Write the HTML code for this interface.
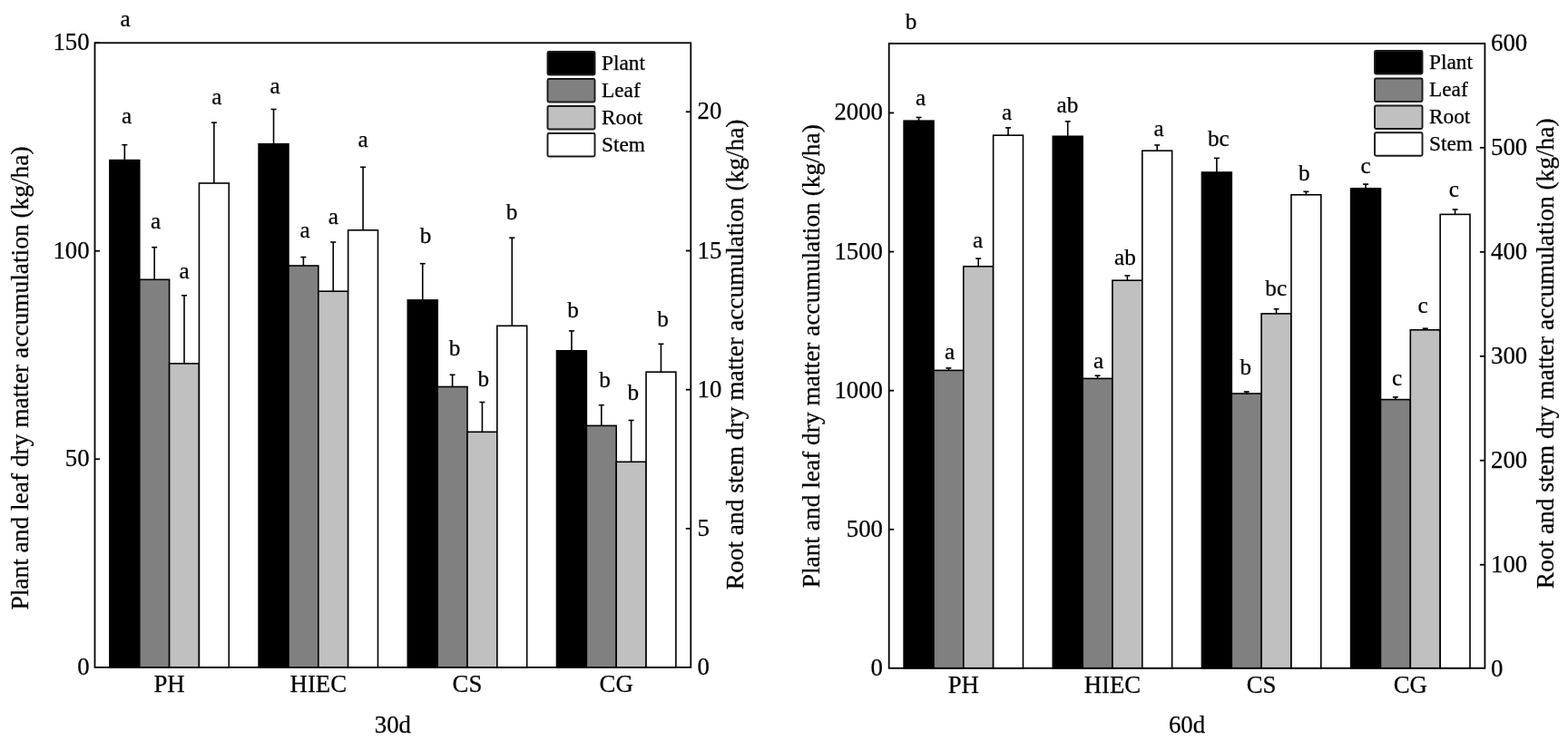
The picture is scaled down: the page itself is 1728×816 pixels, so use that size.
<!DOCTYPE html>
<html><head><meta charset="utf-8"><title>Dry matter accumulation</title>
<style>
html,body{margin:0;padding:0;background:#fff;}
body{width:1728px;height:816px;overflow:hidden;}
svg{display:block;}
text{font-family:"Liberation Serif", "Times New Roman", serif;fill:#000;stroke:#000;stroke-width:0.25px;}
</style></head>
<body>
<svg width="1728" height="816" viewBox="0 0 1728 816">
<rect x="0" y="0" width="1728" height="816" fill="#fff"/>
<line x1="137.34" y1="176.60" x2="137.34" y2="159.70" stroke="#000" stroke-width="1.6"/>
<line x1="134.34" y1="159.70" x2="140.34" y2="159.70" stroke="#000" stroke-width="1.6"/>
<rect x="120.92" y="176.60" width="32.84" height="559.30" fill="#000000" stroke="#000" stroke-width="1.6"/>
<text x="139.60" y="136.00" font-size="25.2" text-anchor="middle">a</text>
<line x1="170.18" y1="308.30" x2="170.18" y2="272.70" stroke="#000" stroke-width="1.6"/>
<line x1="167.18" y1="272.70" x2="173.18" y2="272.70" stroke="#000" stroke-width="1.6"/>
<rect x="153.76" y="308.30" width="32.84" height="427.60" fill="#808080" stroke="#000" stroke-width="1.6"/>
<text x="171.50" y="251.80" font-size="25.2" text-anchor="middle">a</text>
<line x1="203.02" y1="400.90" x2="203.02" y2="325.80" stroke="#000" stroke-width="1.6"/>
<line x1="200.02" y1="325.80" x2="206.02" y2="325.80" stroke="#000" stroke-width="1.6"/>
<rect x="186.60" y="400.90" width="32.84" height="335.00" fill="#c0c0c0" stroke="#000" stroke-width="1.6"/>
<text x="203.00" y="306.60" font-size="25.2" text-anchor="middle">a</text>
<line x1="235.86" y1="202.00" x2="235.86" y2="135.20" stroke="#000" stroke-width="1.6"/>
<line x1="232.86" y1="135.20" x2="238.86" y2="135.20" stroke="#000" stroke-width="1.6"/>
<rect x="219.44" y="202.00" width="32.84" height="533.90" fill="#ffffff" stroke="#000" stroke-width="1.6"/>
<text x="238.80" y="114.70" font-size="25.2" text-anchor="middle">a</text>
<line x1="301.54" y1="158.80" x2="301.54" y2="120.50" stroke="#000" stroke-width="1.6"/>
<line x1="298.54" y1="120.50" x2="304.54" y2="120.50" stroke="#000" stroke-width="1.6"/>
<rect x="285.12" y="158.80" width="32.84" height="577.10" fill="#000000" stroke="#000" stroke-width="1.6"/>
<text x="303.00" y="102.70" font-size="25.2" text-anchor="middle">a</text>
<line x1="334.38" y1="293.00" x2="334.38" y2="283.50" stroke="#000" stroke-width="1.6"/>
<line x1="331.38" y1="283.50" x2="337.38" y2="283.50" stroke="#000" stroke-width="1.6"/>
<rect x="317.96" y="293.00" width="32.84" height="442.90" fill="#808080" stroke="#000" stroke-width="1.6"/>
<text x="336.00" y="262.00" font-size="25.2" text-anchor="middle">a</text>
<line x1="367.22" y1="321.20" x2="367.22" y2="267.00" stroke="#000" stroke-width="1.6"/>
<line x1="364.22" y1="267.00" x2="370.22" y2="267.00" stroke="#000" stroke-width="1.6"/>
<rect x="350.80" y="321.20" width="32.84" height="414.70" fill="#c0c0c0" stroke="#000" stroke-width="1.6"/>
<text x="367.40" y="246.70" font-size="25.2" text-anchor="middle">a</text>
<line x1="400.06" y1="253.80" x2="400.06" y2="184.30" stroke="#000" stroke-width="1.6"/>
<line x1="397.06" y1="184.30" x2="403.06" y2="184.30" stroke="#000" stroke-width="1.6"/>
<rect x="383.64" y="253.80" width="32.84" height="482.10" fill="#ffffff" stroke="#000" stroke-width="1.6"/>
<text x="400.20" y="161.80" font-size="25.2" text-anchor="middle">a</text>
<line x1="465.74" y1="330.90" x2="465.74" y2="290.70" stroke="#000" stroke-width="1.6"/>
<line x1="462.74" y1="290.70" x2="468.74" y2="290.70" stroke="#000" stroke-width="1.6"/>
<rect x="449.32" y="330.90" width="32.84" height="405.00" fill="#000000" stroke="#000" stroke-width="1.6"/>
<text x="469.00" y="268.40" font-size="25.2" text-anchor="middle">b</text>
<line x1="498.58" y1="426.50" x2="498.58" y2="413.30" stroke="#000" stroke-width="1.6"/>
<line x1="495.58" y1="413.30" x2="501.58" y2="413.30" stroke="#000" stroke-width="1.6"/>
<rect x="482.16" y="426.50" width="32.84" height="309.40" fill="#808080" stroke="#000" stroke-width="1.6"/>
<text x="501.00" y="391.70" font-size="25.2" text-anchor="middle">b</text>
<line x1="531.42" y1="476.30" x2="531.42" y2="443.50" stroke="#000" stroke-width="1.6"/>
<line x1="528.42" y1="443.50" x2="534.42" y2="443.50" stroke="#000" stroke-width="1.6"/>
<rect x="515.00" y="476.30" width="32.84" height="259.60" fill="#c0c0c0" stroke="#000" stroke-width="1.6"/>
<text x="532.80" y="425.50" font-size="25.2" text-anchor="middle">b</text>
<line x1="564.26" y1="359.30" x2="564.26" y2="262.20" stroke="#000" stroke-width="1.6"/>
<line x1="561.26" y1="262.20" x2="567.26" y2="262.20" stroke="#000" stroke-width="1.6"/>
<rect x="547.84" y="359.30" width="32.84" height="376.60" fill="#ffffff" stroke="#000" stroke-width="1.6"/>
<text x="564.10" y="241.70" font-size="25.2" text-anchor="middle">b</text>
<line x1="629.94" y1="386.80" x2="629.94" y2="364.90" stroke="#000" stroke-width="1.6"/>
<line x1="626.94" y1="364.90" x2="632.94" y2="364.90" stroke="#000" stroke-width="1.6"/>
<rect x="613.52" y="386.80" width="32.84" height="349.10" fill="#000000" stroke="#000" stroke-width="1.6"/>
<text x="631.50" y="350.10" font-size="25.2" text-anchor="middle">b</text>
<line x1="662.78" y1="469.40" x2="662.78" y2="446.70" stroke="#000" stroke-width="1.6"/>
<line x1="659.78" y1="446.70" x2="665.78" y2="446.70" stroke="#000" stroke-width="1.6"/>
<rect x="646.36" y="469.40" width="32.84" height="266.50" fill="#808080" stroke="#000" stroke-width="1.6"/>
<text x="666.50" y="426.50" font-size="25.2" text-anchor="middle">b</text>
<line x1="695.62" y1="509.30" x2="695.62" y2="463.50" stroke="#000" stroke-width="1.6"/>
<line x1="692.62" y1="463.50" x2="698.62" y2="463.50" stroke="#000" stroke-width="1.6"/>
<rect x="679.20" y="509.30" width="32.84" height="226.60" fill="#c0c0c0" stroke="#000" stroke-width="1.6"/>
<text x="697.70" y="441.10" font-size="25.2" text-anchor="middle">b</text>
<line x1="728.46" y1="410.20" x2="728.46" y2="379.30" stroke="#000" stroke-width="1.6"/>
<line x1="725.46" y1="379.30" x2="731.46" y2="379.30" stroke="#000" stroke-width="1.6"/>
<rect x="712.04" y="410.20" width="32.84" height="325.70" fill="#ffffff" stroke="#000" stroke-width="1.6"/>
<text x="730.50" y="359.60" font-size="25.2" text-anchor="middle">b</text>
<rect x="104.5" y="47.3" width="656.8" height="688.6" fill="none" stroke="#000" stroke-width="1.8"/>
<text x="98.6" y="743.80" font-size="26.8" text-anchor="end">0</text>
<line x1="104.5" y1="506.26" x2="110.0" y2="506.26" stroke="#000" stroke-width="1.8"/>
<text x="98.6" y="514.26" font-size="26.8" text-anchor="end">50</text>
<line x1="104.5" y1="276.73" x2="110.0" y2="276.73" stroke="#000" stroke-width="1.8"/>
<text x="98.6" y="284.73" font-size="26.8" text-anchor="end">100</text>
<line x1="104.5" y1="47.19" x2="110.0" y2="47.19" stroke="#000" stroke-width="1.8"/>
<text x="98.6" y="55.19" font-size="26.8" text-anchor="end">150</text>
<text x="768.6" y="744.10" font-size="26.8" text-anchor="start">0</text>
<line x1="755.8" y1="582.90" x2="761.3" y2="582.90" stroke="#000" stroke-width="1.8"/>
<text x="768.6" y="590.90" font-size="26.8" text-anchor="start">5</text>
<line x1="755.8" y1="429.70" x2="761.3" y2="429.70" stroke="#000" stroke-width="1.8"/>
<text x="768.6" y="437.70" font-size="26.8" text-anchor="start">10</text>
<line x1="755.8" y1="276.50" x2="761.3" y2="276.50" stroke="#000" stroke-width="1.8"/>
<text x="768.6" y="284.50" font-size="26.8" text-anchor="start">15</text>
<line x1="755.8" y1="123.30" x2="761.3" y2="123.30" stroke="#000" stroke-width="1.8"/>
<text x="768.6" y="131.30" font-size="26.8" text-anchor="start">20</text>
<text x="186.60" y="763.10" font-size="26.8" text-anchor="middle">PH</text>
<text x="350.80" y="763.10" font-size="26.8" text-anchor="middle">HIEC</text>
<text x="515.00" y="763.10" font-size="26.8" text-anchor="middle">CS</text>
<text x="679.20" y="763.10" font-size="26.8" text-anchor="middle">CG</text>
<text x="432.90" y="807.6" font-size="26.8" text-anchor="middle">30d</text>
<text transform="translate(31.0,417.0) rotate(-90)" font-size="27.4" text-anchor="middle">Plant and leaf dry matter accumulation (kg/ha)</text>
<text transform="translate(818.5,390.9) rotate(-90)" font-size="27.4" text-anchor="middle">Root and stem dry matter accumulation (kg/ha)</text>
<rect x="603.5" y="57.0" width="52.0" height="25.5" rx="1.5" fill="#000000" stroke="#1a1a1a" stroke-width="1.9"/>
<text x="663.0" y="77.4" font-size="23.3">Plant</text>
<rect x="603.5" y="87.0" width="52.0" height="25.5" rx="1.5" fill="#808080" stroke="#1a1a1a" stroke-width="1.9"/>
<text x="663.0" y="107.4" font-size="23.3">Leaf</text>
<rect x="603.5" y="117.0" width="52.0" height="25.5" rx="1.5" fill="#c0c0c0" stroke="#1a1a1a" stroke-width="1.9"/>
<text x="663.0" y="137.4" font-size="23.3">Root</text>
<rect x="603.5" y="147.0" width="52.0" height="25.5" rx="1.5" fill="#ffffff" stroke="#1a1a1a" stroke-width="1.9"/>
<text x="663.0" y="167.4" font-size="23.3">Stem</text>
<text x="138.0" y="28.5" font-size="25.2" text-anchor="middle">a</text>
<line x1="1012.54" y1="133.20" x2="1012.54" y2="129.50" stroke="#000" stroke-width="1.6"/>
<line x1="1009.54" y1="129.50" x2="1015.54" y2="129.50" stroke="#000" stroke-width="1.6"/>
<rect x="996.12" y="133.20" width="32.84" height="603.60" fill="#000000" stroke="#000" stroke-width="1.6"/>
<text x="1014.50" y="115.90" font-size="25.2" text-anchor="middle">a</text>
<line x1="1045.37" y1="408.40" x2="1045.37" y2="405.90" stroke="#000" stroke-width="1.6"/>
<line x1="1042.37" y1="405.90" x2="1048.37" y2="405.90" stroke="#000" stroke-width="1.6"/>
<rect x="1028.95" y="408.40" width="32.84" height="328.40" fill="#808080" stroke="#000" stroke-width="1.6"/>
<text x="1046.50" y="395.50" font-size="25.2" text-anchor="middle">a</text>
<line x1="1078.21" y1="293.80" x2="1078.21" y2="285.10" stroke="#000" stroke-width="1.6"/>
<line x1="1075.21" y1="285.10" x2="1081.21" y2="285.10" stroke="#000" stroke-width="1.6"/>
<rect x="1061.79" y="293.80" width="32.84" height="443.00" fill="#c0c0c0" stroke="#000" stroke-width="1.6"/>
<text x="1077.50" y="273.20" font-size="25.2" text-anchor="middle">a</text>
<line x1="1111.04" y1="149.20" x2="1111.04" y2="140.90" stroke="#000" stroke-width="1.6"/>
<line x1="1108.04" y1="140.90" x2="1114.04" y2="140.90" stroke="#000" stroke-width="1.6"/>
<rect x="1094.62" y="149.20" width="32.84" height="587.60" fill="#ffffff" stroke="#000" stroke-width="1.6"/>
<text x="1109.70" y="132.20" font-size="25.2" text-anchor="middle">a</text>
<line x1="1176.71" y1="150.30" x2="1176.71" y2="133.90" stroke="#000" stroke-width="1.6"/>
<line x1="1173.71" y1="133.90" x2="1179.71" y2="133.90" stroke="#000" stroke-width="1.6"/>
<rect x="1160.29" y="150.30" width="32.84" height="586.50" fill="#000000" stroke="#000" stroke-width="1.6"/>
<text x="1176.50" y="123.90" font-size="25.2" text-anchor="middle">ab</text>
<line x1="1209.55" y1="417.40" x2="1209.55" y2="414.20" stroke="#000" stroke-width="1.6"/>
<line x1="1206.55" y1="414.20" x2="1212.55" y2="414.20" stroke="#000" stroke-width="1.6"/>
<rect x="1193.13" y="417.40" width="32.84" height="319.40" fill="#808080" stroke="#000" stroke-width="1.6"/>
<text x="1210.70" y="405.50" font-size="25.2" text-anchor="middle">a</text>
<line x1="1242.38" y1="309.20" x2="1242.38" y2="304.00" stroke="#000" stroke-width="1.6"/>
<line x1="1239.38" y1="304.00" x2="1245.38" y2="304.00" stroke="#000" stroke-width="1.6"/>
<rect x="1225.96" y="309.20" width="32.84" height="427.60" fill="#c0c0c0" stroke="#000" stroke-width="1.6"/>
<text x="1239.90" y="292.00" font-size="25.2" text-anchor="middle">ab</text>
<line x1="1275.22" y1="166.20" x2="1275.22" y2="160.00" stroke="#000" stroke-width="1.6"/>
<line x1="1272.22" y1="160.00" x2="1278.22" y2="160.00" stroke="#000" stroke-width="1.6"/>
<rect x="1258.80" y="166.20" width="32.84" height="570.60" fill="#ffffff" stroke="#000" stroke-width="1.6"/>
<text x="1277.00" y="149.80" font-size="25.2" text-anchor="middle">a</text>
<line x1="1340.88" y1="190.00" x2="1340.88" y2="174.40" stroke="#000" stroke-width="1.6"/>
<line x1="1337.88" y1="174.40" x2="1343.88" y2="174.40" stroke="#000" stroke-width="1.6"/>
<rect x="1324.47" y="190.00" width="32.84" height="546.80" fill="#000000" stroke="#000" stroke-width="1.6"/>
<text x="1342.80" y="161.30" font-size="25.2" text-anchor="middle">bc</text>
<line x1="1373.72" y1="434.00" x2="1373.72" y2="431.95" stroke="#000" stroke-width="1.6"/>
<line x1="1370.72" y1="431.95" x2="1376.72" y2="431.95" stroke="#000" stroke-width="1.6"/>
<rect x="1357.30" y="434.00" width="32.84" height="302.80" fill="#808080" stroke="#000" stroke-width="1.6"/>
<text x="1372.90" y="412.60" font-size="25.2" text-anchor="middle">b</text>
<line x1="1406.56" y1="345.90" x2="1406.56" y2="340.70" stroke="#000" stroke-width="1.6"/>
<line x1="1403.56" y1="340.70" x2="1409.56" y2="340.70" stroke="#000" stroke-width="1.6"/>
<rect x="1390.14" y="345.90" width="32.84" height="390.90" fill="#c0c0c0" stroke="#000" stroke-width="1.6"/>
<text x="1406.20" y="326.20" font-size="25.2" text-anchor="middle">bc</text>
<line x1="1439.39" y1="214.80" x2="1439.39" y2="211.30" stroke="#000" stroke-width="1.6"/>
<line x1="1436.39" y1="211.30" x2="1442.39" y2="211.30" stroke="#000" stroke-width="1.6"/>
<rect x="1422.97" y="214.80" width="32.84" height="522.00" fill="#ffffff" stroke="#000" stroke-width="1.6"/>
<text x="1437.40" y="198.80" font-size="25.2" text-anchor="middle">b</text>
<line x1="1505.06" y1="207.80" x2="1505.06" y2="203.10" stroke="#000" stroke-width="1.6"/>
<line x1="1502.06" y1="203.10" x2="1508.06" y2="203.10" stroke="#000" stroke-width="1.6"/>
<rect x="1488.64" y="207.80" width="32.84" height="529.00" fill="#000000" stroke="#000" stroke-width="1.6"/>
<text x="1505.00" y="191.30" font-size="25.2" text-anchor="middle">c</text>
<line x1="1537.89" y1="440.60" x2="1537.89" y2="437.90" stroke="#000" stroke-width="1.6"/>
<line x1="1534.89" y1="437.90" x2="1540.89" y2="437.90" stroke="#000" stroke-width="1.6"/>
<rect x="1521.48" y="440.60" width="32.84" height="296.20" fill="#808080" stroke="#000" stroke-width="1.6"/>
<text x="1539.70" y="425.00" font-size="25.2" text-anchor="middle">c</text>
<line x1="1570.73" y1="363.80" x2="1570.73" y2="362.20" stroke="#000" stroke-width="1.6"/>
<line x1="1567.73" y1="362.20" x2="1573.73" y2="362.20" stroke="#000" stroke-width="1.6"/>
<rect x="1554.31" y="363.80" width="32.84" height="373.00" fill="#c0c0c0" stroke="#000" stroke-width="1.6"/>
<text x="1568.10" y="344.80" font-size="25.2" text-anchor="middle">c</text>
<line x1="1603.57" y1="236.40" x2="1603.57" y2="231.00" stroke="#000" stroke-width="1.6"/>
<line x1="1600.57" y1="231.00" x2="1606.57" y2="231.00" stroke="#000" stroke-width="1.6"/>
<rect x="1587.15" y="236.40" width="32.84" height="500.40" fill="#ffffff" stroke="#000" stroke-width="1.6"/>
<text x="1602.30" y="217.30" font-size="25.2" text-anchor="middle">c</text>
<rect x="979.7" y="48.0" width="656.7" height="688.8" fill="none" stroke="#000" stroke-width="1.8"/>
<text x="973.0" y="744.90" font-size="26.8" text-anchor="end">0</text>
<line x1="979.7" y1="583.79" x2="985.2" y2="583.79" stroke="#000" stroke-width="1.8"/>
<text x="973.0" y="591.79" font-size="26.8" text-anchor="end">500</text>
<line x1="979.7" y1="430.68" x2="985.2" y2="430.68" stroke="#000" stroke-width="1.8"/>
<text x="973.0" y="438.68" font-size="26.8" text-anchor="end">1000</text>
<line x1="979.7" y1="277.57" x2="985.2" y2="277.57" stroke="#000" stroke-width="1.8"/>
<text x="973.0" y="285.57" font-size="26.8" text-anchor="end">1500</text>
<line x1="979.7" y1="124.46" x2="985.2" y2="124.46" stroke="#000" stroke-width="1.8"/>
<text x="973.0" y="132.46" font-size="26.8" text-anchor="end">2000</text>
<text x="1643.0" y="745.70" font-size="26.8" text-anchor="start">0</text>
<line x1="1630.9" y1="622.73" x2="1636.4" y2="622.73" stroke="#000" stroke-width="1.8"/>
<text x="1643.0" y="630.73" font-size="26.8" text-anchor="start">100</text>
<line x1="1630.9" y1="507.76" x2="1636.4" y2="507.76" stroke="#000" stroke-width="1.8"/>
<text x="1643.0" y="515.76" font-size="26.8" text-anchor="start">200</text>
<line x1="1630.9" y1="392.79" x2="1636.4" y2="392.79" stroke="#000" stroke-width="1.8"/>
<text x="1643.0" y="400.79" font-size="26.8" text-anchor="start">300</text>
<line x1="1630.9" y1="277.82" x2="1636.4" y2="277.82" stroke="#000" stroke-width="1.8"/>
<text x="1643.0" y="285.82" font-size="26.8" text-anchor="start">400</text>
<line x1="1630.9" y1="162.85" x2="1636.4" y2="162.85" stroke="#000" stroke-width="1.8"/>
<text x="1643.0" y="170.85" font-size="26.8" text-anchor="start">500</text>
<line x1="1630.9" y1="47.88" x2="1636.4" y2="47.88" stroke="#000" stroke-width="1.8"/>
<text x="1643.0" y="55.88" font-size="26.8" text-anchor="start">600</text>
<text x="1061.79" y="764.00" font-size="26.8" text-anchor="middle">PH</text>
<text x="1225.96" y="764.00" font-size="26.8" text-anchor="middle">HIEC</text>
<text x="1390.14" y="764.00" font-size="26.8" text-anchor="middle">CS</text>
<text x="1554.31" y="764.00" font-size="26.8" text-anchor="middle">CG</text>
<text x="1308.05" y="807.8" font-size="26.8" text-anchor="middle">60d</text>
<text transform="translate(902.8,392.8) rotate(-90)" font-size="27.4" text-anchor="middle">Plant and leaf dry matter accumulation (kg/ha)</text>
<text transform="translate(1712.3,389.8) rotate(-90)" font-size="27.4" text-anchor="middle">Root and stem dry matter accumulation (kg/ha)</text>
<rect x="1515.0" y="56.0" width="52.5" height="25.5" rx="1.5" fill="#000000" stroke="#1a1a1a" stroke-width="1.9"/>
<text x="1575.0" y="76.4" font-size="23.3">Plant</text>
<rect x="1515.0" y="86.5" width="52.5" height="25.5" rx="1.5" fill="#808080" stroke="#1a1a1a" stroke-width="1.9"/>
<text x="1575.0" y="106.2" font-size="23.3">Leaf</text>
<rect x="1515.0" y="116.5" width="52.5" height="25.5" rx="1.5" fill="#c0c0c0" stroke="#1a1a1a" stroke-width="1.9"/>
<text x="1575.0" y="136.0" font-size="23.3">Root</text>
<rect x="1515.0" y="146.3" width="52.5" height="25.5" rx="1.5" fill="#ffffff" stroke="#1a1a1a" stroke-width="1.9"/>
<text x="1575.0" y="165.8" font-size="23.3">Stem</text>
<text x="1004.0" y="32.1" font-size="25.2" text-anchor="middle">b</text>
</svg>
</body></html>
